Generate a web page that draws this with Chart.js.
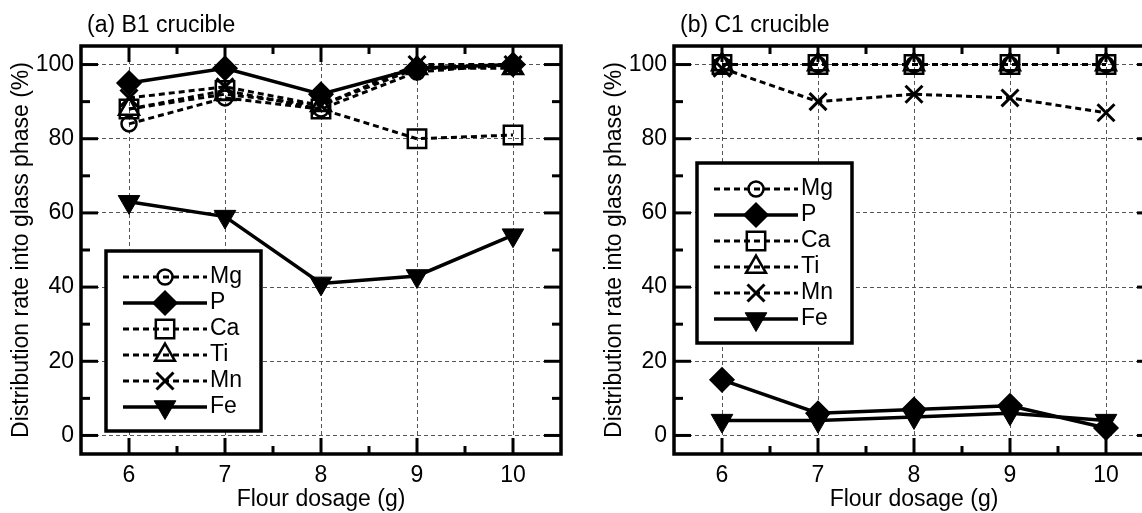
<!DOCTYPE html>
<html>
<head>
<meta charset="utf-8">
<script src="https://cdn.jsdelivr.net/npm/chart.js@4.4.1/dist/chart.umd.min.js"></script>
<style>
html,body{margin:0;padding:0;background:#fff;overflow:hidden}
#painel{position:relative;width:1142px;height:513px;overflow:hidden}
canvas{position:absolute;top:0}
</style>
</head>
<body>
<div id="painel">
<canvas id="graficoB1" width="593" height="513" style="left:0"></canvas>
<canvas id="graficoC1" width="593" height="513" style="left:593px"></canvas>
</div>
<script>
let dosagem=[6,7,8,9,10]
let ticksX=[6,7,8,9,10]
let ticksY=[0,20,40,60,80,100]
let elementos=['Mg','P','Ca','Ti','Mn','Fe']

// (a) B1 crucible
let b1Mg=[84,91,88,98,100]
let b1P=[95,99,92,99,100]
let b1Ca=[88,93,88,80,81]
let b1Ti=[88,92,89,99,99]
let b1Mn=[91,94,89,100,100]
let b1Fe=[63,59,41,43,54]

// (b) C1 crucible
let c1Mg=[100,100,100,100,100]
let c1P=[15,6,7,8,2]
let c1Ca=[100,100,100,100,100]
let c1Ti=[100,100,100,100,100]
let c1Mn=[99,90,92,91,87]
let c1Fe=[4,4,5,6,4]

let fonte="'Liberation Sans', Arial, sans-serif"

let estilos={
Mg:{forma:'circle',raio:7.5,rotacao:0,cheio:false,largura:3,traco:[6,4],borda:2.5},
P:{forma:'rectRot',raio:12,rotacao:0,cheio:true,largura:3.5,traco:[],borda:1.5},
Ca:{forma:'rect',raio:13,rotacao:0,cheio:false,largura:3,traco:[6,4],borda:2.5},
Ti:{forma:'triangle',raio:11.5,rotacao:0,cheio:false,largura:3,traco:[6,4],borda:2.5},
Mn:{forma:'crossRot',raio:12,rotacao:0,cheio:false,largura:3,traco:[6,4],borda:3},
Fe:{forma:'triangle',raio:12.5,rotacao:180,cheio:true,largura:3.5,traco:[],borda:1}
}

function montarSeries(valores){
return elementos.map((nome,i)=>{
let e=estilos[nome]
return{
label:nome,
data:dosagem.map((d,j)=>({x:d,y:valores[i][j]})),
borderColor:'#000',
borderWidth:e.largura,
borderDash:e.traco,
pointStyle:e.forma,
pointRadius:e.raio,
pointRotation:e.rotacao,
pointBorderWidth:e.borda,
pointBorderColor:'#000',
pointBackgroundColor:e.cheio?'#000':'rgba(0,0,0,0)',
tension:0,
clip:false
}
})
}

function linha(ctx,x1,y1,x2,y2){
ctx.beginPath()
ctx.moveTo(x1,y1)
ctx.lineTo(x2,y2)
ctx.stroke()
}

let moldura={
id:'moldura',
afterDatasetsDraw(chart,args,opts){
let ctx=chart.ctx
let area=chart.chartArea
let sx=chart.scales.x
let sy=chart.scales.y

ctx.save()

// legenda
let lx=area.left+opts.legendaX
let ly=opts.legendaY
ctx.setLineDash([])
ctx.fillStyle='#fff'
ctx.fillRect(lx,ly,155,180)
ctx.strokeStyle='#000'
ctx.lineWidth=3.5
ctx.strokeRect(lx,ly,155,180)

chart.data.datasets.forEach((ds,i)=>{
let yy=ly+26+i*26
ctx.strokeStyle='#000'
ctx.lineWidth=ds.borderWidth
ctx.setLineDash(ds.borderDash||[])
linha(ctx,lx+17,yy,lx+101,yy)
ctx.setLineDash([])
ctx.lineWidth=ds.pointBorderWidth
ctx.fillStyle=ds.pointBackgroundColor
Chart.helpers.drawPoint(ctx,{
pointStyle:ds.pointStyle,
radius:ds.pointRadius,
rotation:ds.pointRotation,
borderWidth:ds.pointBorderWidth
},lx+59,yy)
ctx.fillStyle='#000'
ctx.font='23px '+fonte
ctx.textBaseline='middle'
ctx.textAlign='left'
ctx.fillText(ds.label,lx+104,yy)
})

// moldura e ticks internos
ctx.setLineDash([])
ctx.strokeStyle='#000'
ctx.lineWidth=3.5
ctx.strokeRect(area.left,area.top,area.right-area.left,area.bottom-area.top)
ctx.lineWidth=3

ticksX.forEach(v=>{
let px=sx.getPixelForValue(v)
linha(ctx,px,area.bottom,px,area.bottom-16)
linha(ctx,px,area.top,px,area.top+16)
})
ticksX.slice(1).forEach((v,i)=>{
let px=sx.getPixelForValue((v+ticksX[i])/2)
linha(ctx,px,area.bottom,px,area.bottom-8)
linha(ctx,px,area.top,px,area.top+8)
})
ticksY.forEach(v=>{
let py=sy.getPixelForValue(v)
linha(ctx,area.left,py,area.left+17,py)
linha(ctx,area.right,py,area.right-17,py)
})
ticksY.slice(1).forEach((v,i)=>{
let py=sy.getPixelForValue((v+ticksY[i])/2)
linha(ctx,area.left,py,area.left+9,py)
linha(ctx,area.right,py,area.right-9,py)
})

ctx.restore()
},
afterDraw(chart,args,opts){
let ctx=chart.ctx
ctx.save()
ctx.fillStyle='#000'
ctx.font='23px '+fonte
ctx.textBaseline='alphabetic'
ctx.textAlign='left'
ctx.fillText(opts.titulo,chart.chartArea.left+6,32)
ctx.restore()
}
}

function criarGrafico(id,valores,titulo,legendaX,legendaY){
let ctx=document.getElementById(id)
return new Chart(ctx,{
type:'line',
data:{
datasets:montarSeries(valores)
},
options:{
responsive:false,
animation:false,
devicePixelRatio:1,
events:[],
layout:{
padding:{top:46,right:32,bottom:0,left:0}
},
scales:{
x:{
type:'linear',
min:5.5,
max:10.5,
afterBuildTicks:s=>{s.ticks=ticksX.map(v=>({value:v}))},
afterFit:s=>{s.height=59},
ticks:{
color:'#000',
font:{family:fonte,size:23},
padding:8,
autoSkip:false,
maxRotation:0
},
grid:{
color:'#555',
lineWidth:1,
drawTicks:false
},
border:{display:false,dash:[4,3]},
title:{
display:true,
text:'Flour dosage (g)',
color:'#000',
font:{family:fonte,size:23,lineHeight:1},
padding:{top:0,bottom:2}
}
},
y:{
type:'linear',
min:-5,
max:105,
afterBuildTicks:s=>{s.ticks=ticksY.map(v=>({value:v}))},
afterFit:s=>{s.width=81},
ticks:{
color:'#000',
font:{family:fonte,size:23},
padding:7,
autoSkip:false
},
grid:{
color:'#555',
lineWidth:1,
drawTicks:false
},
border:{display:false,dash:[4,3]},
title:{
display:true,
text:'Distribution rate into glass phase (%)',
color:'#000',
font:{family:fonte,size:23,lineHeight:1},
padding:{top:10,bottom:0}
}
}
},
plugins:{
legend:{display:false},
tooltip:{enabled:false},
moldura:{
titulo:titulo,
legendaX:legendaX,
legendaY:legendaY
}
}
},
plugins:[moldura]
})
}

criarGrafico('graficoB1',[b1Mg,b1P,b1Ca,b1Ti,b1Mn,b1Fe],'(a) B1 crucible',25,251)
criarGrafico('graficoC1',[c1Mg,c1P,c1Ca,c1Ti,c1Mn,c1Fe],'(b) C1 crucible',23,163)
</script>
</body>
</html>
